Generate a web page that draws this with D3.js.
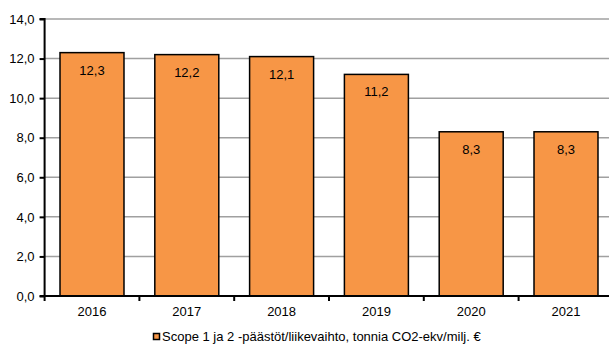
<!DOCTYPE html>
<html><head><meta charset="utf-8">
<script src="https://cdn.jsdelivr.net/npm/d3@7"></script>
<style>body{margin:0;background:#fff}svg{display:block;font-family:"Liberation Sans",Arial,sans-serif}</style>
</head><body>
<svg id="c" width="609" height="344"></svg>
<script>
const categories = ["2016","2017","2018","2019","2020","2021"];
const values = [12.3,12.2,12.1,11.2,8.3,8.3];
const yTicks = [0,2,4,6,8,10,12,14];
const seriesName = "Scope 1 ja 2 -päästöt/liikevaihto, tonnia CO2-ekv/milj. €";

const svg = d3.select("#c");
const x0 = 44.6, x1 = 613.4, yTop = 19, yBot = 296;
const x = d3.scaleBand().domain(categories).range([x0, x1]).paddingInner(0.325).paddingOuter(0.1625);
const y = d3.scaleLinear().domain([0,14]).range([yBot, yTop]);
const fmt = v => d3.format(".1f")(v).replace(".", ",");

// grid
svg.append("g").selectAll("line").data(yTicks.filter(d=>d>0)).join("line")
  .attr("x1", x0).attr("x2", 609).attr("y1", d=>y(d)).attr("y2", d=>y(d))
  .attr("stroke", "#a0a0a0").attr("stroke-width", 1.5);

// bars
svg.append("g").selectAll("rect").data(values).join("rect")
  .attr("x", (d,i)=>x(categories[i])).attr("width", x.bandwidth())
  .attr("y", d=>y(d)).attr("height", d=>yBot - y(d))
  .attr("fill", "#F79646").attr("stroke", "#000").attr("stroke-width", 1.5);

// value labels
svg.append("g").selectAll("text").data(values).join("text")
  .attr("x", (d,i)=>x(categories[i]) + x.bandwidth()/2).attr("y", d=>y(d)+22)
  .attr("text-anchor","middle").attr("font-size",13).attr("fill","#000")
  .text(d=>fmt(d));

// y axis
const ya = svg.append("g").attr("transform", `translate(${x0},0)`)
  .call(d3.axisLeft(y).tickValues(yTicks).tickFormat(fmt).tickSize(5).tickPadding(5));
ya.select(".domain").attr("stroke","#000").attr("stroke-width",2).attr("d", `M-5,${yTop}H0V${yBot}`);
ya.selectAll(".tick line").attr("stroke","#000").attr("stroke-width",2);
ya.selectAll("text").attr("font-size",13).attr("fill","#000").attr("font-family","Liberation Sans, Arial, sans-serif");

// x axis
const xa = svg.append("g").attr("transform", `translate(0,${yBot})`);
xa.append("line").attr("x1", x0-5).attr("x2", 609).attr("stroke","#000").attr("stroke-width",2);
const step = x.step();
const bounds = d3.range(categories.length+1).map(i => x0 + i*step);
xa.selectAll("line.t").data(bounds).join("line").attr("class","t")
  .attr("x1", d=>d).attr("x2", d=>d).attr("y1",0).attr("y2",5)
  .attr("stroke","#000").attr("stroke-width",2);
xa.selectAll("text").data(categories).join("text")
  .attr("x", d=>x(d)+x.bandwidth()/2).attr("y", 19.5)
  .attr("text-anchor","middle").attr("font-size",13).attr("fill","#000").text(d=>d);

// legend
const lg = svg.append("g");
lg.append("rect").attr("x",153.5).attr("y",333.5).attr("width",6).attr("height",6)
  .attr("fill","#F79646").attr("stroke","#000").attr("stroke-width",1.5);
lg.append("text").attr("x",162).attr("y",341).attr("font-size",13).attr("fill","#000").text(seriesName);
</script>
</body></html>
